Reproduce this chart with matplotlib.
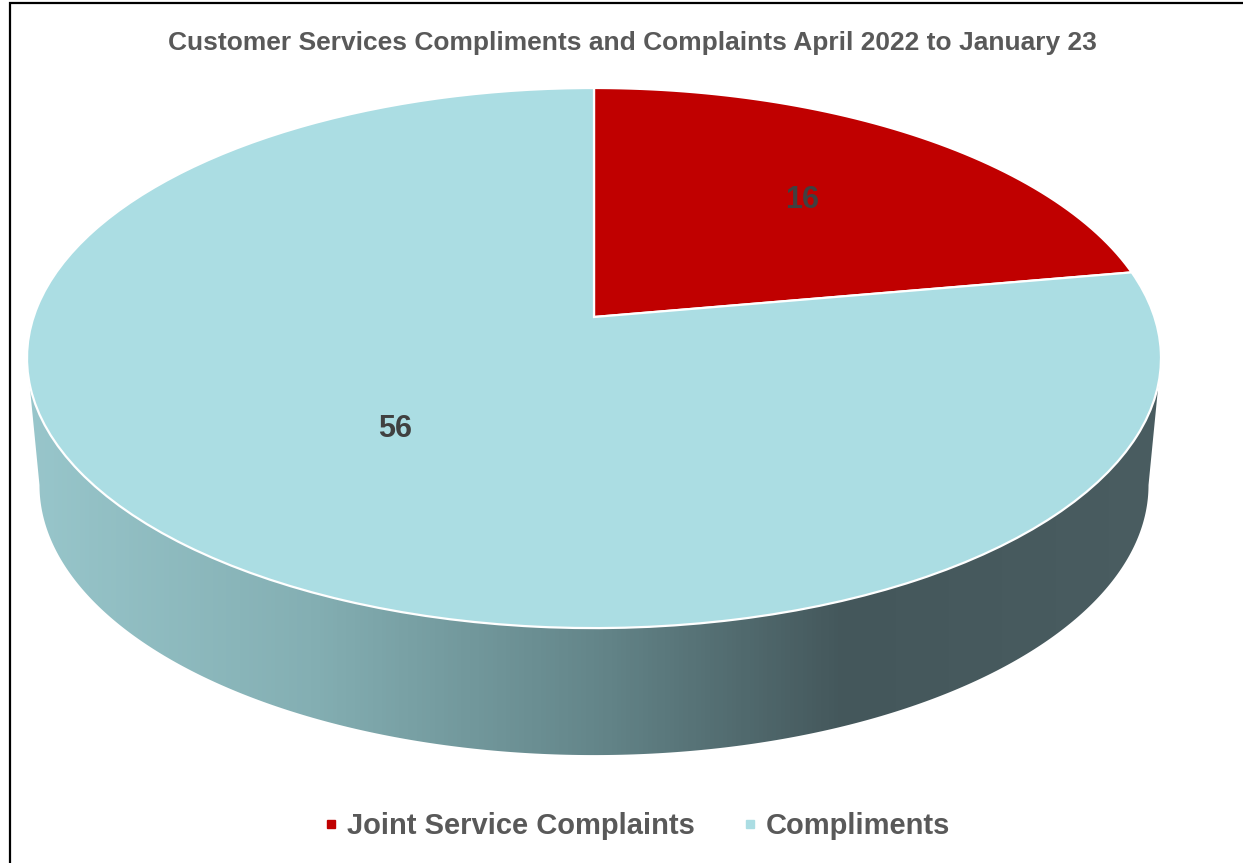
import matplotlib.pyplot as plt
import numpy as np
from matplotlib.colors import LinearSegmentedColormap
from matplotlib.patches import Polygon, Rectangle
from matplotlib.lines import Line2D
from matplotlib.transforms import Affine2D

plt.rcParams['font.family'] = ['Liberation Sans', 'DejaVu Sans']

title = "Customer Services Compliments and Complaints April 2022 to January 23"
labels = ["Joint Service Complaints", "Compliments"]
values = [16, 56]
colors = ["#c00000", "#abdde3"]

W, H = 1243, 863
fig = plt.figure(figsize=(W / 100, H / 100), dpi=100)

# frame line (chart is cropped on right/bottom)
fig.patches.append(Rectangle((10 / W, -0.1), 1.2, (H - 3) / H + 0.1,
                             transform=fig.transFigure, fill=False,
                             edgecolor="black", linewidth=1.6))

# whole-figure axes in pixel units (y up)
ax = fig.add_axes([0, 0, 1, 1])

# perspective view of the pie disc: apex at (594, 317 from top)
cx, cy = 594, H - 317
a, b, k = 560.4, 263.8, 0.152
depth = 127
label_r = [0.62, 0.52]  # how far out each value label sits


def project(u, v):
    d = 1 + k * v
    return cx + a * u / d, cy + b * v / d


total = sum(values)
wedges, texts, autotexts = ax.pie(
    values, colors=colors, startangle=90, counterclock=False, radius=1,
    autopct=lambda p: f"{p * total / 100:.0f}",
    textprops=dict(color="#404040", fontsize=22, fontweight="bold"))

# side wall with gradient
t = np.linspace(np.pi + np.arcsin(k), 2 * np.pi - np.arcsin(k), 300)
tx, ty = project(np.cos(t), np.sin(t))
bx = cx + (tx - cx) * 0.978
by = ty - depth
wall = Polygon(np.vstack([np.column_stack([tx, ty]),
                          np.column_stack([bx, by])[::-1]]),
               closed=True, facecolor="none", edgecolor="none")
ax.add_patch(wall)
side_cmap = LinearSegmentedColormap.from_list(
    "side", [(0.0, "#98c6cb"), (0.25, "#84afb3"), (0.5, "#64868a"),
             (0.72, "#44575b"), (1.0, "#4a5d61")])
grad = np.linspace(0, 1, 256).reshape(1, -1)
img = ax.imshow(grad, cmap=side_cmap, extent=(27, 1162, H - 770, H - 340),
                aspect="auto", zorder=0)
img.set_clip_path(wall)

# replace flat wedges with projected ones (flatten at a big scale for smooth arcs)
up = Affine2D().scale(1000)
for w, txt, r in zip(wedges, autotexts, label_r):
    path = w.get_patch_transform().transform_path(w.get_path())
    poly = path.to_polygons(transform=up)[0] / 1000
    px, py = project(poly[:, 0], poly[:, 1])
    ax.add_patch(Polygon(np.column_stack([px, py]), closed=True,
                         facecolor=w.get_facecolor(), edgecolor="white",
                         linewidth=1.6, zorder=2))
    w.set_visible(False)
    mid = np.deg2rad((w.theta1 + w.theta2) / 2)
    txt.set_position(project(r * np.cos(mid), r * np.sin(mid)))
    txt.set_zorder(3)

ax.set_aspect("auto")
ax.set_xlim(0, W)
ax.set_ylim(0, H)
ax.axis("off")

fig.text(632 / W, 1 - 43 / H, title, ha="center", va="center",
         fontsize=19, fontweight="bold", color="#595959")

handles = [Line2D([], [], marker="s", linestyle="none", markersize=6,
                  markerfacecolor=c, markeredgecolor=c) for c in colors]
fig.legend(handles, labels, loc="center", bbox_to_anchor=(636 / W, 1 - 826 / H),
           ncol=2, frameon=False, handlelength=0.6, handletextpad=0.25,
           columnspacing=1.6, prop=dict(size=21, weight="bold"),
           labelcolor="#595959")

fig.savefig("out.png", dpi=100)
